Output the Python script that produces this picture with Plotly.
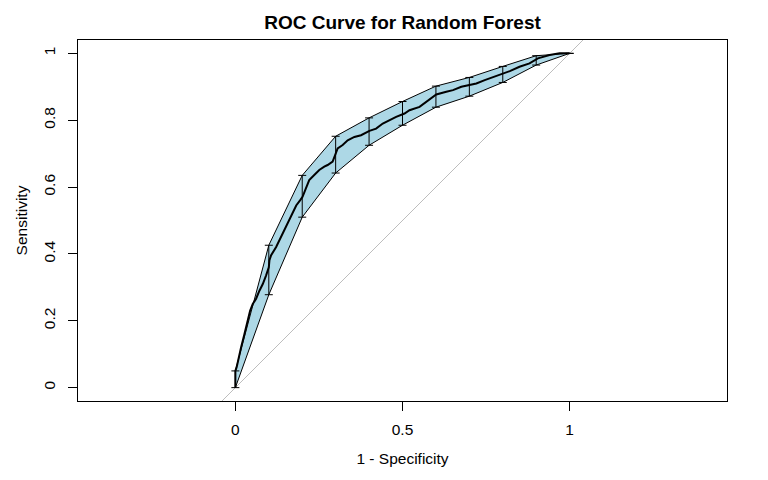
import plotly.graph_objects as go

# ROC curve (1 - specificity, sensitivity)
FPR = [0.0, 0.0, 0.004, 0.012, 0.017, 0.027, 0.037, 0.044, 0.052, 0.062, 0.072, 0.082,
       0.092, 0.100, 0.102, 0.107, 0.122, 0.132, 0.142, 0.157, 0.167, 0.182, 0.194, 0.201,
       0.211, 0.221, 0.236, 0.251, 0.266, 0.276, 0.291, 0.299, 0.306, 0.321, 0.336, 0.356,
       0.376, 0.401, 0.421, 0.441, 0.461, 0.481, 0.506, 0.521, 0.551, 0.571, 0.591, 0.601,
       0.631, 0.651, 0.676, 0.701, 0.721, 0.746, 0.776, 0.801, 0.821, 0.850, 0.880, 0.905,
       0.940, 0.970, 1.0]
TPR = [0.0, 0.05, 0.062, 0.10, 0.12, 0.16, 0.20, 0.23, 0.25, 0.266, 0.29, 0.31,
       0.336, 0.36, 0.381, 0.396, 0.421, 0.441, 0.461, 0.491, 0.516, 0.545, 0.561, 0.571,
       0.596, 0.621, 0.636, 0.651, 0.661, 0.666, 0.676, 0.70, 0.716, 0.726, 0.740, 0.750,
       0.755, 0.768, 0.775, 0.790, 0.800, 0.810, 0.820, 0.830, 0.840, 0.855, 0.870, 0.877,
       0.885, 0.890, 0.900, 0.905, 0.910, 0.920, 0.930, 0.940, 0.947, 0.960, 0.970, 0.985,
       0.995, 1.0, 1.0]

# Sensitivity confidence interval at 1 - specificity = 0, 0.1, ..., 1
CI_X = [0.0, 0.1, 0.2, 0.3, 0.4, 0.5, 0.6, 0.7, 0.8, 0.9, 1.0]
CI_LOW = [0.0, 0.278, 0.510, 0.642, 0.725, 0.785, 0.839, 0.872, 0.913, 0.965, 1.0]
CI_HIGH = [0.05, 0.426, 0.635, 0.752, 0.807, 0.856, 0.902, 0.928, 0.961, 0.993, 1.0]

# identity line y = x (drawn long, clipped by the axes)
DIAG = [-2.0, 3.0]

X_TICKS = [0, 0.5, 1]
X_TICK_TEXT = ["0", "0.5", "1"]
Y_TICKS = [0, 0.2, 0.4, 0.6, 0.8, 1]
Y_TICK_TEXT = ["0", "0.2", "0.4", "0.6", "0.8", "1"]

FONT = "Liberation Sans, Arial, sans-serif"

fig = go.Figure()

fig.add_trace(go.Scatter(
    x=DIAG, y=DIAG, mode="lines",
    line=dict(color="#BDBDBD", width=1), hoverinfo="skip", showlegend=False))

fig.add_trace(go.Scatter(
    x=CI_X + CI_X[::-1], y=CI_HIGH + CI_LOW[::-1],
    mode="lines", fill="toself", fillcolor="#ADD8E6",
    line=dict(color="black", width=1), hoverinfo="skip", showlegend=False))

fig.add_trace(go.Scatter(
    x=CI_X, y=CI_LOW, mode="markers",
    marker=dict(size=1, color="rgba(0,0,0,0)"),
    error_y=dict(type="data", symmetric=False,
                 array=[h - l for h, l in zip(CI_HIGH, CI_LOW)],
                 arrayminus=[0] * len(CI_X),
                 color="black", thickness=1, width=4),
    hoverinfo="skip", showlegend=False))

fig.add_trace(go.Scatter(
    x=FPR, y=TPR, mode="lines", line=dict(color="black", width=2),
    showlegend=False))

axis_common = dict(
    showline=True, mirror=True, linecolor="black", linewidth=1,
    ticks="outside", ticklen=9, tickwidth=1, tickcolor="black",
    showgrid=False, zeroline=False, automargin=False,
    tickfont=dict(family=FONT, size=15.5, color="black"),
)

# page body adds an 8px offset, so the figure is 8px smaller and margins shifted
fig.update_layout(
    width=760, height=472, autosize=False,
    margin=dict(l=70, r=41, t=32, b=79, pad=0),
    paper_bgcolor="white", plot_bgcolor="white",
    font=dict(family=FONT, size=15.5, color="black"),
    title=dict(text="<b>ROC Curve for Random Forest</b>",
               x=0.5, xref="paper", xanchor="center",
               y=1 - 14.5 / 472, yref="container", yanchor="middle",
               font=dict(family=FONT, size=19, color="black")),
    xaxis=dict(range=[-0.4708, 1.4708], tickvals=X_TICKS, ticktext=X_TICK_TEXT,
               ticklabelstandoff=5,
               title=dict(text="1 - Specificity", standoff=16,
                          font=dict(family=FONT, size=15.5, color="black")),
               **axis_common),
    yaxis=dict(range=[-0.04, 1.04], tickvals=Y_TICKS, ticktext=Y_TICK_TEXT,
               tickangle=-90, ticklabelstandoff=7,
               title=dict(text="Sensitivity", standoff=9,
                          font=dict(family=FONT, size=15.5, color="black")),
               **axis_common),
)

fig.write_html("out.html")
